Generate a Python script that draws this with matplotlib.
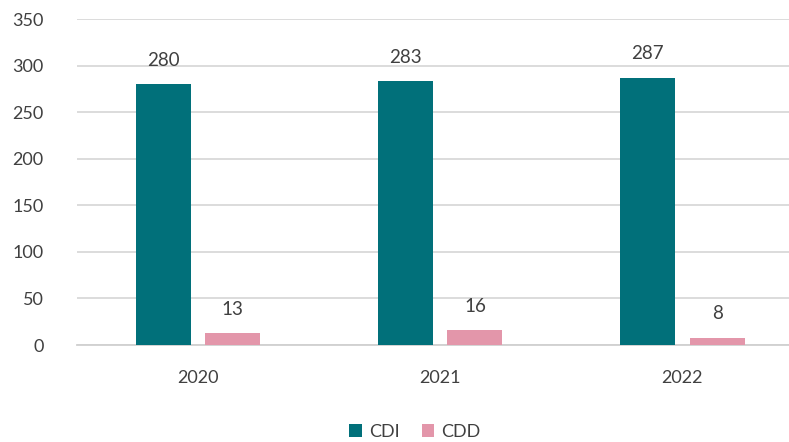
import numpy as np
from matplotlib import pyplot as plt

years = ["2020", "2021", "2022"]
cdi = [280, 283, 287]
cdd = [13, 16, 8]

plt.rcParams['font.family'] = ['Lato', 'DejaVu Sans']

teal = "#01707a"
pink = "#e396aa"
txt = "#404040"

fig = plt.figure(figsize=(7.89, 4.42), dpi=100)
ax = fig.add_axes([77/789, 97/442, 1 - 77/789, 326/442])

x = np.arange(len(years))
w = 0.227
off = 0.143
b1 = ax.bar(x - off, cdi, w, color=teal, label="CDI", zorder=3)
b2 = ax.bar(x + off, cdd, w, color=pink, label="CDD", zorder=3)

for bars in (b1, b2):
    for r in bars:
        ax.annotate(str(int(r.get_height())), (r.get_x() + r.get_width()/2, r.get_height()),
                    xytext=(0, 11), textcoords="offset points", ha="center", va="bottom",
                    fontsize=13.5, color=txt)

ax.set_ylim(0, 350)
ax.set_yticks(range(0, 351, 50))
ax.set_xlim(-0.5, 2.44)
ax.set_xticks(x)
ax.set_xticklabels(years)
ax.tick_params(axis="both", length=0, labelsize=13, labelcolor=txt)
ax.tick_params(axis="x", pad=18)
ax.tick_params(axis="y", pad=24)
ax.grid(axis="y", color="#d9d9d9", linewidth=1.3, zorder=0)
for s in ["top", "right", "left"]:
    ax.spines[s].set_visible(False)
ax.spines["bottom"].set_color("#d0d0d0")
ax.spines["bottom"].set_linewidth(1.3)

fig.legend(handles=[b1, b2], loc="center", bbox_to_anchor=(415/789, 1 - 432/442), ncol=2,
           frameon=False, fontsize=13, handlelength=0.7, handleheight=0.7,
           handletextpad=0.4, columnspacing=1.2, labelcolor=txt)

plt.savefig("out.png", dpi=100)
